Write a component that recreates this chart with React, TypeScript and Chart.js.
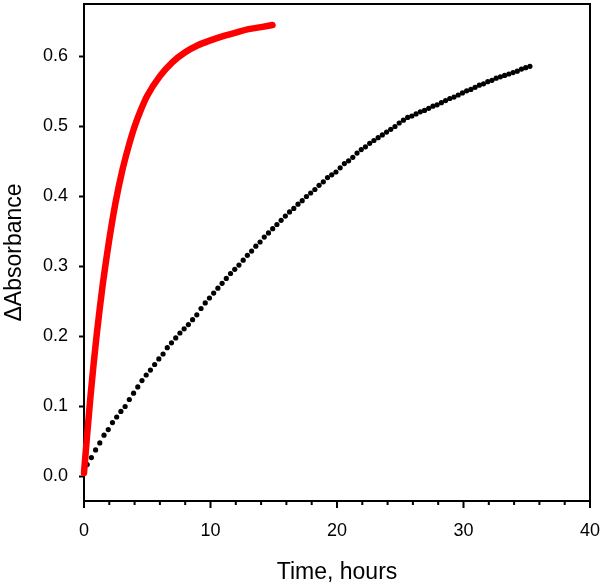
import React, { useEffect, useRef } from "react";
import { Chart, registerables } from "chart.js";

Chart.register(...registerables);

const FONT = "'Liberation Sans', Arial, sans-serif";

const xTitle = "Time, hours";
const yTitle = "ΔAbsorbance";
const xMajorTicks = [0, 10, 20, 30, 40];
const xMinorTicks = [2, 4, 6, 8, 12, 14, 16, 18, 22, 24, 26, 28, 32, 34, 36, 38];
const yTicks = [0, 0.1, 0.2, 0.3, 0.4, 0.5, 0.6];
const xMin = 0;
const xMax = 40;
const yMin = -0.035;
const yMax = 0.675;

// Red series (fast reaction), hours / ΔAbsorbance
const redTimes = [
  0, 0.25, 0.5, 0.75, 1.0, 1.25, 1.5, 1.75, 2.0, 2.5, 3.0, 3.5, 4.0, 4.5, 5.0,
  6.0, 7.0, 8.0, 9.0, 10.0, 11.0, 12.0, 13.0, 14.0, 14.9,
];
const redValues = [
  0.005, 0.06, 0.112, 0.159, 0.202, 0.241, 0.277, 0.309, 0.339, 0.392, 0.435, 0.47, 0.5, 0.524, 0.544,
  0.572, 0.592, 0.606, 0.616, 0.623, 0.629, 0.634, 0.639, 0.642, 0.645,
];

// Black series (slow reaction), sampled every 20 minutes
const blackStartHour = 0.25;
const blackIntervalHours = 1 / 3;
const blackValues = [
  0.017, 0.027, 0.038, 0.048, 0.059, 0.067, 0.077, 0.085, 0.093, 0.1,
  0.11, 0.119, 0.128, 0.137, 0.145, 0.152, 0.16, 0.168, 0.175, 0.184,
  0.191, 0.198, 0.205, 0.211, 0.217, 0.224, 0.231, 0.24, 0.248, 0.255,
  0.262, 0.269, 0.276, 0.283, 0.29, 0.296, 0.302, 0.309, 0.316, 0.322,
  0.329, 0.335, 0.342, 0.348, 0.354, 0.36, 0.366, 0.372, 0.378, 0.383,
  0.389, 0.394, 0.4, 0.405, 0.41, 0.416, 0.421, 0.427, 0.431, 0.435,
  0.441, 0.447, 0.451, 0.456, 0.462, 0.467, 0.471, 0.476, 0.48, 0.484,
  0.488, 0.492, 0.496, 0.5, 0.505, 0.509, 0.513, 0.515, 0.518, 0.521,
  0.523, 0.526, 0.529, 0.531, 0.534, 0.537, 0.54, 0.542, 0.545, 0.548,
  0.551, 0.553, 0.556, 0.559, 0.561, 0.564, 0.566, 0.569, 0.571, 0.573,
  0.575, 0.577, 0.579, 0.582, 0.584, 0.586,
];

const framePlugin = {
  id: "frameTicks",
  beforeDatasetsDraw(chart: any) {
    const { ctx, chartArea: a, scales } = chart;
    ctx.save();
    ctx.strokeStyle = "#000";
    ctx.lineWidth = 2;
    ctx.strokeRect(a.left, a.top, a.right - a.left, a.bottom - a.top);
    ctx.beginPath();
    for (const v of yTicks) {
      const y = scales.y.getPixelForValue(v);
      ctx.moveTo(a.left - 5, y);
      ctx.lineTo(a.left, y);
    }
    for (const v of xMajorTicks) {
      const x = scales.x.getPixelForValue(v);
      ctx.moveTo(x, a.bottom);
      ctx.lineTo(x, a.bottom + 7);
    }
    for (const v of xMinorTicks) {
      const x = scales.x.getPixelForValue(v);
      ctx.moveTo(x, a.bottom);
      ctx.lineTo(x, a.bottom + 4);
    }
    ctx.stroke();
    ctx.restore();
  },
};

export default function App() {
  const ref = useRef<HTMLCanvasElement | null>(null);

  useEffect(() => {
    document.body.style.margin = "0";
    const canvas = ref.current;
    if (!canvas) return;
    const redData = redTimes.map((t, i) => ({ x: t, y: redValues[i] }));
    const blackData = blackValues.map((v, i) => ({ x: blackStartHour + i * blackIntervalHours, y: v }));
    const chart = new Chart(canvas, {
      type: "scatter",
      data: {
        datasets: [
          {
            label: "fast",
            data: redData,
            showLine: true,
            borderColor: "#ff0000",
            backgroundColor: "#ff0000",
            borderWidth: 6.5,
            borderCapStyle: "round",
            borderJoinStyle: "round",
            pointRadius: 0,
            cubicInterpolationMode: "monotone",
            clip: false,
          } as any,
          {
            label: "slow",
            data: blackData,
            showLine: false,
            backgroundColor: "#000",
            borderColor: "#000",
            borderWidth: 0,
            pointRadius: 2.6,
            clip: false,
          } as any,
        ],
      },
      options: {
        animation: false,
        responsive: false,
        maintainAspectRatio: false,
        layout: { padding: { left: 0, right: 10, top: 1.5, bottom: 0 } },
        plugins: { legend: { display: false }, tooltip: { enabled: false } },
        scales: {
          x: {
            type: "linear",
            min: xMin,
            max: xMax,
            afterBuildTicks: (s: any) => {
              s.ticks = xMajorTicks.map((v) => ({ value: v }));
            },
            afterFit: (s: any) => {
              s.height = 83;
              s.paddingLeft = 0;
              s.paddingRight = 0;
              s.paddingTop = 0;
              s.paddingBottom = 0;
            },
            ticks: {
              color: "#000",
              font: { family: FONT, size: 18 },
              padding: 11,
              maxRotation: 0,
              autoSkip: false,
              callback: (v: any) => String(v),
            },
            grid: { display: false },
            border: { display: false },
            title: {
              display: true,
              text: xTitle,
              color: "#000",
              font: { family: FONT, size: 23, lineHeight: 1 },
              padding: 0,
            },
          },
          y: {
            type: "linear",
            min: yMin,
            max: yMax,
            afterBuildTicks: (s: any) => {
              s.ticks = yTicks.map((v) => ({ value: v }));
            },
            afterFit: (s: any) => {
              s.width = 84;
              s.paddingLeft = 0;
              s.paddingRight = 0;
              s.paddingTop = 0;
              s.paddingBottom = 0;
            },
            ticks: {
              color: "#000",
              font: { family: FONT, size: 18 },
              padding: 8,
              autoSkip: false,
              callback: (v: any) => Number(v).toFixed(1),
            },
            grid: { display: false },
            border: { display: false },
            title: {
              display: true,
              text: yTitle,
              color: "#000",
              font: { family: FONT, size: 23, lineHeight: 1 },
              padding: { top: 3, bottom: 0 },
            },
          },
        },
      },
      plugins: [framePlugin],
    });
    return () => chart.destroy();
  }, []);

  return (
    <div style={{ width: 600, height: 584 }}>
      <canvas ref={ref} width={600} height={584} style={{ display: "block", width: 600, height: 584 }} />
    </div>
  );
}
